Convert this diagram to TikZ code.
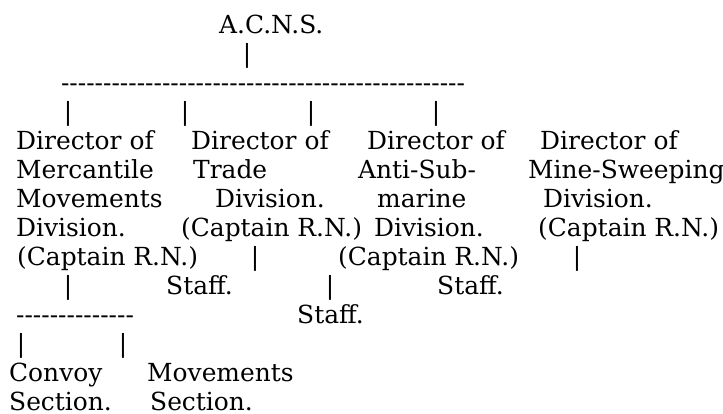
\documentclass[tikz,border=0pt]{standalone}
\usepackage{fontspec}
\setmainfont{DejaVu Serif}[Ligatures=TeXOff]
\tikzset{
  txt/.style={anchor=base west, inner sep=0pt, font=\fontsize{24.9pt}{29pt}\selectfont},
  bar/.style={txt, anchor=base}
}

\begin{document}
\begin{tikzpicture}[x=1pt,y=-1pt]
    \useasboundingbox (0,0) rectangle (723,413);
    \node[txt] (acns) at (219,33) {A.C.N.S.};
    \node[bar] (acnsbar) at (247,62) {|};
    \node[bar] (topline) at (263,91) {------------------------------------------------};
    \node[bar] (bar1) at (68,120) {|};
    \node[bar] (bar2) at (185,120) {|};
    \node[bar] (bar3) at (311,120) {|};
    \node[bar] (bar4) at (436,120) {|};
    % row of directors
    \node[txt] (merca) at (16,149) {Director of};
    \node[txt] (trada) at (191,149) {Director of};
    \node[txt] (antia) at (367,149) {Director of};
    \node[txt] (minea) at (540,149) {Director of};
    \node[txt] (mercb) at (16,178) {Mercantile};
    \node[txt] (tradb) at (193,178) {Trade};
    \node[txt] (antib) at (358,178) {Anti-Sub-};
    \node[txt] (mineb) at (528,178) {Mine-Sweeping};
    \node[txt] (mercc) at (16,207) {Movements};
    \node[txt] (tradc) at (215,207) {Division.};
    \node[txt] (antic) at (377,207) {marine};
    \node[txt] (minec) at (543,207) {Division.};
    \node[txt] (mercd) at (16,236) {Division.};
    \node[txt] (tradd) at (181,236) {(Captain R.N.)};
    \node[txt] (antid) at (374,236) {Division.};
    \node[txt] (mined) at (538,236) {(Captain R.N.)};
    \node[txt] (merce) at (17,265) {(Captain R.N.)};
    \node[bar] (tradbar) at (255,265) {|};
    \node[txt] (antie) at (338,265) {(Captain R.N.)};
    \node[bar] (minebar) at (577,265) {|};
    \node[bar] (mercbar) at (68,294) {|};
    \node[txt] (tradstaff) at (166,294) {Staff.};
    \node[bar] (antibar) at (330,294) {|};
    \node[txt] (minestaff) at (437,294) {Staff.};
    \node[bar] (mercline) at (75,323) {--------------};
    \node[txt] (antistaff) at (297,323) {Staff.};
    \node[bar] (convbar) at (21,352) {|};
    \node[bar] (movbar) at (123,352) {|};
    % sections
    \node[txt] (conva) at (9,381) {Convoy};
    \node[txt] (mova) at (147,381) {Movements};
    \node[txt] (convb) at (9,410) {Section.};
    \node[txt] (movb) at (150,410) {Section.};
\end{tikzpicture}
\end{document}
